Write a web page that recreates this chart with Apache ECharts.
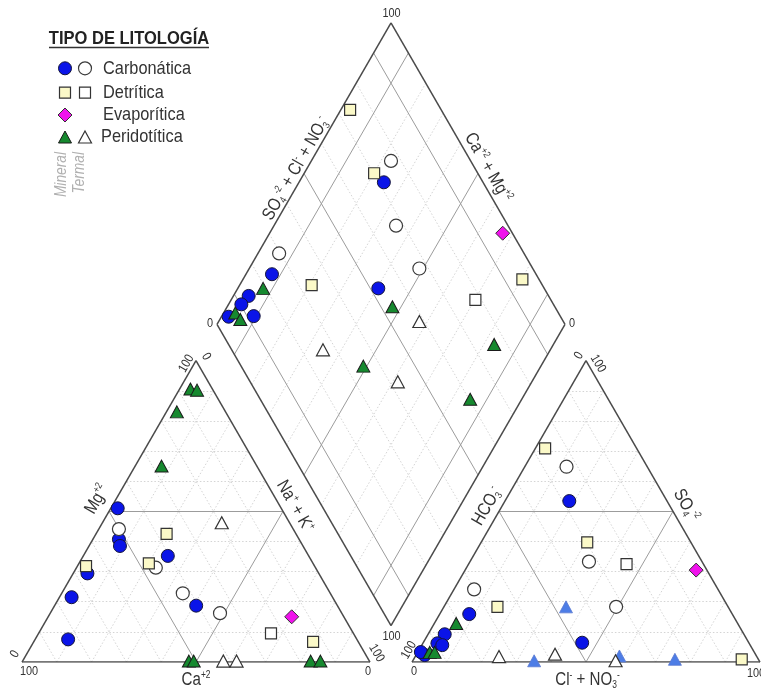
<!DOCTYPE html>
<html><head><meta charset="utf-8">
<script src="https://cdn.jsdelivr.net/npm/echarts@6/dist/echarts.min.js"></script>
<style>html,body{margin:0;padding:0;background:#fff}#c{width:761px;height:690px}</style>
</head><body><div id="c"></div>
<script>
// ================= DATA =================
const legendTitle = 'TIPO DE LITOLOGÍA';
const lithologies = ['Carbonática', 'Detrítica', 'Evaporítica', 'Peridotítica'];
const waterTypes = ['Mineral', 'Termal'];
const tickLabels = ['0', '100'];

// Cations (left triangle): [Ca, Mg, Na+K] in %
const carbMineralCat = [[47,51,2],[51.8,40.7,7.5],[52.6,38.5,8.9],[40.5,35.2,24.3],[66.5,29.4,4.1],[75,21.5,3.5],[40.6,18.7,40.7],[83,7.5,9.5]];
const carbTermalCat  = [[50.1,44.1,5.8],[45.9,31.3,22.8],[42.4,22.8,34.8],[35,16.2,48.8]];
const detrMineralCat = [[37.2,42.5,20.3],[47.2,32.7,20.1],[65.7,31.8,2.5],[13,6.7,80.3]];
const detrTermalCat  = [[23.7,9.5,66.8]];
const evapCat        = [[15,15,70]];
const peridMineralCat= [[6.3,90.6,3.1],[4.6,90.2,5.2],[14,83,3],[27.4,65,7.6],[51.9,0.3,47.8],[50.5,0.3,49.2],[16.9,0.3,82.8],[14.1,0.3,85.6]];
const peridTermalCat = [[19.5,46.2,34.3],[42,0.3,57.7],[38.2,0.3,61.5]];

// Anions (right triangle): [HCO3, SO4, Cl+NO3] in %
const carbMineralAn  = [[28.1,53.4,18.5],[47.9,6.4,45.7],[75.6,15.9,8.5],[86,9.2,4.8],[89.6,6.2,4.2],[88.5,5.6,5.9],[95.2,2.3,2.5],[95.8,3.3,0.9]];
const carbTermalAn   = [[23.2,64.8,12],[32.5,33.3,34.2],[70.1,24.1,5.8],[32.2,18.3,49.5]];
const detrMineralAn  = [[26.3,70.9,2.8],[29.8,39.7,30.5],[66.3,18.3,15.4],[4.8,0.9,94.3]];
const detrTermalAn   = [[22.1,32.5,45.4]];
const evapAn         = [[3.1,30.5,66.4]];
const peridMineralAn = [[80.9,12.8,6.3],[93.3,3.2,3.5],[91.9,3.2,4.9]];
const peridTermalAn  = [[74.1,1.8,24.1],[57.6,2.6,39.8],[41.3,0.4,58.3]];
const otherAn        = [[46.6,18.3,35.1],[64.7,0.4,34.9],[39.4,2,58.6],[24,0.9,75.1]];

// Diamond: [Na+K %, SO4+Cl+NO3 %]
const carbMineralDia = [[24.4,71.5],[40.4,52.3],[7.5,24.1],[4.4,13.8],[3.7,10.3],[2.1,4.6],[9.2,11.9]];
const carbTermalDia  = [[22.9,77.1],[35.1,67.8],[6.1,29.6],[48.9,67.4]];
const detrMineralDia = [[2.7,73.8],[20.1,70.2],[20.7,33.7],[80.3,95.2]];
const detrTermalDia  = [[70.2,78.3]];
const evapDia        = [[67,97.2]];
const peridMineralDia= [[7.3,19.2],[47.5,53.3],[3.4,7.1],[5.9,7.5],[83,76.3],[49,35.1],[85.2,60.3]];
const peridTermalDia = [[57.7,58.6],[34.7,26.2],[61.5,42.4]];

// ================= GEOMETRY =================
const H = Math.sqrt(3) / 2;
const GAP = 42 / 348;
const O = 1 + GAP;
const cat = p => [(p[2] + p[1] / 2) / 100, H * p[1] / 100];
const an  = p => [O + (p[2] + p[1] / 2) / 100, H * p[1] / 100];
const dia = p => [(p[0] / 100 + O + p[1] / 100) / 2, H * (O + p[1] / 100 - p[0] / 100)];

const FONT = "'Liberation Sans Narrow','Arial Narrow','Liberation Sans',Arial,sans-serif";

// grid lines
const outline = [], inner = [], dotted = [];
const poly = pts => pts.map((p, i) => [p, pts[(i + 1) % pts.length]]);
outline.push(...poly([cat([100,0,0]), cat([0,0,100]), cat([0,100,0])]));
outline.push(...poly([an([100,0,0]), an([0,0,100]), an([0,100,0])]));
outline.push(...poly([dia([0,0]), dia([0,100]), dia([100,100]), dia([100,0])]));
for (let k = 10; k <= 90; k += 10) {
  const t = k === 50 ? inner : dotted;
  t.push([cat([100-k,k,0]), cat([0,k,100-k])]);
  t.push([cat([100-k,0,k]), cat([0,100-k,k])]);
  t.push([cat([k,0,100-k]), cat([k,100-k,0])]);
  t.push([an([100-k,k,0]), an([0,k,100-k])]);
  t.push([an([100-k,0,k]), an([0,100-k,k])]);
  t.push([an([k,0,100-k]), an([k,100-k,0])]);
  const d = (k === 10 || k === 50 || k === 90) ? inner : dotted;
  d.push([dia([k,0]), dia([k,100])]);
  d.push([dia([0,k]), dia([100,k])]);
}
const linesSeries = (arr, style, z) => ({
  type: 'lines', coordinateSystem: 'cartesian2d', polyline: false, silent: true, z: z,
  data: arr.map(c => ({coords: c})), lineStyle: Object.assign({opacity: 1}, style), animation: false
});

const ST = {
  carbMin:  {symbol: 'circle',   size: 13,      color: '#0a14e8', border: '#15153a', bw: 1},
  carbTer:  {symbol: 'circle',   size: 13,      color: '#ffffff', border: '#3a3a3a', bw: 1.2},
  detrMin:  {symbol: 'rect',     size: 11,      color: '#fbf9c8', border: '#333333', bw: 1.2},
  detrTer:  {symbol: 'rect',     size: 11,      color: '#ffffff', border: '#333333', bw: 1.2},
  evap:     {symbol: 'diamond',  size: 14,      color: '#f012ec', border: '#333333', bw: 1},
  peridMin: {symbol: 'triangle', size: [13,12], color: '#16892f', border: '#1a1a1a', bw: 1},
  peridTer: {symbol: 'triangle', size: [13,12], color: '#ffffff', border: '#333333', bw: 1.2},
  other:    {symbol: 'triangle', size: [13,12], color: '#4d7de6', border: '#5a78d0', bw: 0.8}
};
const sc = (name, data, f, st) => ({
  name, type: 'scatter', data: data.map(f), symbol: st.symbol, symbolSize: st.size, z: 5,
  itemStyle: {color: st.color, borderColor: st.border, borderWidth: st.bw, opacity: 1},
  silent: true, animation: false
});

const series = [
  linesSeries(dotted, {color: '#c9c9c9', width: 0.8, type: [1.5, 2]}, 1),
  linesSeries(inner, {color: '#9c9c9c', width: 1}, 2),
  linesSeries(outline, {color: '#4a4a4a', width: 1.5}, 3),
  sc('cat-cm', carbMineralCat, cat, ST.carbMin), sc('cat-ct', carbTermalCat, cat, ST.carbTer),
  sc('cat-dm', detrMineralCat, cat, ST.detrMin), sc('cat-dt', detrTermalCat, cat, ST.detrTer),
  sc('cat-e', evapCat, cat, ST.evap),
  sc('cat-pm', peridMineralCat, cat, ST.peridMin), sc('cat-pt', peridTermalCat, cat, ST.peridTer),
  sc('an-o', otherAn, an, ST.other),
  sc('an-cm', carbMineralAn, an, ST.carbMin), sc('an-ct', carbTermalAn, an, ST.carbTer),
  sc('an-dm', detrMineralAn, an, ST.detrMin), sc('an-dt', detrTermalAn, an, ST.detrTer),
  sc('an-e', evapAn, an, ST.evap),
  sc('an-pm', peridMineralAn, an, ST.peridMin), sc('an-pt', peridTermalAn, an, ST.peridTer),
  sc('d-cm', carbMineralDia, dia, ST.carbMin), sc('d-ct', carbTermalDia, dia, ST.carbTer),
  sc('d-dm', detrMineralDia, dia, ST.detrMin), sc('d-dt', detrTermalDia, dia, ST.detrTer),
  sc('d-e', evapDia, dia, ST.evap),
  sc('d-pm', peridMineralDia, dia, ST.peridMin), sc('d-pt', peridTermalDia, dia, ST.peridTer)
];

const XMAX = O + 1, YMAX = H * (O + 1);
const PX = 348;
const option = {
  backgroundColor: '#ffffff',
  animation: false,
  grid: {left: 22, top: 662 - YMAX * PX, width: XMAX * PX, height: YMAX * PX, containLabel: false},
  xAxis: {type: 'value', min: 0, max: XMAX, show: false},
  yAxis: {type: 'value', min: 0, max: YMAX, show: false},
  series
};
const chart = echarts.init(document.getElementById('c'));
chart.setOption(option);

// ================= TEXT =================
const px = p => chart.convertToPixel({gridIndex: 0}, p);
const RICH = fs => ({
  m:   {fontSize: fs, lineHeight: fs + 2, fontFamily: FONT, fill: '#333', verticalAlign: 'middle'},
  sup: {fontSize: Math.round(fs * 0.55), lineHeight: Math.round(fs * 0.55), fontFamily: FONT, fill: '#333', verticalAlign: 'top'},
  sub: {fontSize: Math.round(fs * 0.55), lineHeight: Math.round(fs * 0.55), fontFamily: FONT, fill: '#333', verticalAlign: 'bottom'}
});
const DEG = Math.PI / 180;
const NARROW = 0.84;
const txt = (text, anchor, d, rot, fs) => {
  const p = px(anchor);
  return {type: 'text', x: p[0] + d[0], y: p[1] + d[1], rotation: rot * DEG, scaleX: NARROW, silent: true, z: 10,
    style: {text, rich: RICH(fs), align: 'center', verticalAlign: 'middle', fontFamily: FONT, fontSize: fs, fill: '#333'}};
};
const T0 = tickLabels[0], T1 = tickLabels[1];
const tk = s => '{m|' + s + '}';
const AX = 18, TK = 13;
const graphics = [
  txt('{m|Mg}{sup|+2}', cat([50,50,0]), [-12,-12], 60, AX),
  txt('{m|Ca}{sup|+2}', cat([50,0,50]), [0,18], 0, AX),
  txt('{m|Na}{sup|+}{m| + K}{sup|+}', cat([0,50,50]), [12,-5], -60, AX),
  txt(tk(T1), cat([100,0,0]), [7,9], 0, TK),
  txt(tk(T0), cat([100,0,0]), [-7,-8], 60, TK),
  txt(tk(T1), cat([0,100,0]), [-9.5,3], 60, TK),
  txt(tk(T0), cat([0,100,0]), [10,-4], -60, TK),
  txt(tk(T1), cat([0,0,100]), [6.5,-9], -60, TK),
  txt(tk(T0), cat([0,0,100]), [-2,9.5], 0, TK),
  txt('{m|HCO}{sub|3}{sup|-}', an([50,50,0]), [-12,-5], 60, AX),
  txt('{m|SO}{sub|4}{sup|-2}', an([0,50,50]), [13,-6], -60, AX),
  txt('{m|Cl}{sup|-}{m| + NO}{sub|3}{sup|-}', an([50,0,50]), [1.5,18], 0, AX),
  txt(tk(T0), an([100,0,0]), [2,9.5], 0, TK),
  txt(tk(T1), an([100,0,0]), [-3,-12], 60, TK),
  txt(tk(T0), an([0,100,0]), [-7,-5], 60, TK),
  txt(tk(T1), an([0,100,0]), [12,3], -60, TK),
  txt(tk(T1), an([0,0,100]), [-4,11], 0, TK),
  txt('{m|SO}{sub|4}{sup|-2}{m| + Cl}{sup|-}{m| + NO}{sub|3}{sup|-}', dia([0,50]), [-8,-5], 60, AX),
  txt('{m|Ca}{sup|+2}{m| + Mg}{sup|+2}', dia([50,100]), [10,-6], -60, AX),
  txt(tk(T1), dia([0,100]), [0.5,-9], 0, TK),
  txt(tk(T0), dia([0,0]), [-7,-0.5], 0, TK),
  txt(tk(T0), dia([100,100]), [7,-0.5], 0, TK),
  txt(tk(T1), dia([100,0]), [0.5,11], 0, TK)
];

// legend
const LF = 19;
graphics.push({type: 'text', x: 129, y: 38.5, scaleX: 0.87, silent: true,
  style: {text: legendTitle, align: 'center', verticalAlign: 'middle', fontFamily: FONT, fontSize: LF, fontWeight: 'bold', fill: '#222'}});
graphics.push({type: 'line', silent: true, shape: {x1: 49, y1: 47.5, x2: 209, y2: 47.5}, style: {stroke: '#333', lineWidth: 1.5}});
const rowsY = [68.3, 92.6, 115, 137];
const circ = (x, y, st) => ({type: 'circle', silent: true, shape: {cx: x, cy: y, r: 6.5}, style: {fill: st.color, stroke: st.border, lineWidth: st.bw}});
const sq = (x, y, st) => ({type: 'rect', silent: true, shape: {x: x - 5.5, y: y - 5.5, width: 11, height: 11}, style: {fill: st.color, stroke: st.border, lineWidth: st.bw}});
const dm = (x, y, st) => ({type: 'polygon', silent: true, shape: {points: [[x, y - 7], [x + 7, y], [x, y + 7], [x - 7, y]]}, style: {fill: st.color, stroke: st.border, lineWidth: st.bw}});
const tri = (x, y, st) => ({type: 'polygon', silent: true, shape: {points: [[x, y - 6], [x + 6.5, y + 6], [x - 6.5, y + 6]]}, style: {fill: st.color, stroke: st.border, lineWidth: st.bw}});
graphics.push(circ(65, rowsY[0], ST.carbMin), circ(85, rowsY[0], ST.carbTer));
graphics.push(sq(65, rowsY[1], ST.detrMin), sq(85, rowsY[1], ST.detrTer));
graphics.push(dm(65, rowsY[2], ST.evap));
graphics.push(tri(65, rowsY[3], ST.peridMin), tri(85, rowsY[3], ST.peridTer));
lithologies.forEach((name, i) => {
  graphics.push({type: 'text', x: i === 3 ? 101 : 103, y: rowsY[i], scaleX: 0.86, silent: true,
    style: {text: name, align: 'left', verticalAlign: 'middle', fontFamily: FONT, fontSize: LF, fill: '#333'}});
});
graphics.push({type: 'text', x: 62, y: 152, rotation: 90 * DEG, scaleX: 0.86, silent: true,
  style: {text: waterTypes[0], align: 'right', verticalAlign: 'middle', fontFamily: FONT, fontSize: 16, fontStyle: 'italic', fill: '#b0b0b0'}});
graphics.push({type: 'text', x: 80, y: 152, rotation: 90 * DEG, scaleX: 0.86, silent: true,
  style: {text: waterTypes[1], align: 'right', verticalAlign: 'middle', fontFamily: FONT, fontSize: 16, fontStyle: 'italic', fill: '#b0b0b0'}});

chart.setOption({graphic: graphics});
</script>
</body></html>
